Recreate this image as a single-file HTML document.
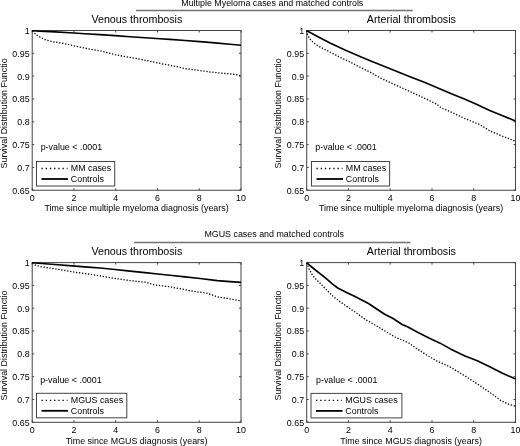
<!DOCTYPE html><html><head><meta charset="utf-8"><style>html,body{margin:0;padding:0;background:#fff;width:520px;height:446px;overflow:hidden}svg{display:block;will-change:transform}text{font-family:"Liberation Sans",sans-serif;fill:#000}</style></head><body>
<svg width="520" height="446" viewBox="0 0 520 446">
<rect width="520" height="446" fill="#fff"/>
<text x="272.3" y="6.3" font-size="8.9" text-anchor="middle">Multiple Myeloma cases and matched controls</text>
<line x1="136" y1="10.5" x2="412.7" y2="10.5" stroke="#727272" stroke-width="1.5"/>
<text x="274.2" y="236.5" font-size="8.9" text-anchor="middle">MGUS cases and matched controls</text>
<line x1="134" y1="242.5" x2="410.5" y2="242.5" stroke="#727272" stroke-width="1.5"/>
<text x="136.9" y="23.2" font-size="10.7" text-anchor="middle">Venous thrombosis</text>
<rect x="32.2" y="30.5" width="208.8" height="159.75" fill="none" stroke="#444" stroke-width="1"/>
<text x="32.2" y="201.2" font-size="8.9" text-anchor="middle">0</text>
<text x="74.0" y="201.2" font-size="8.9" text-anchor="middle">2</text>
<text x="115.7" y="201.2" font-size="8.9" text-anchor="middle">4</text>
<text x="157.5" y="201.2" font-size="8.9" text-anchor="middle">6</text>
<text x="199.2" y="201.2" font-size="8.9" text-anchor="middle">8</text>
<text x="241.0" y="201.2" font-size="8.9" text-anchor="middle">10</text>
<text x="29.6" y="33.9" font-size="8.9" text-anchor="end">1</text>
<text x="29.6" y="56.7" font-size="8.9" text-anchor="end">0.95</text>
<text x="29.6" y="79.5" font-size="8.9" text-anchor="end">0.9</text>
<text x="29.6" y="102.4" font-size="8.9" text-anchor="end">0.85</text>
<text x="29.6" y="125.2" font-size="8.9" text-anchor="end">0.8</text>
<text x="29.6" y="148.0" font-size="8.9" text-anchor="end">0.75</text>
<text x="29.6" y="170.8" font-size="8.9" text-anchor="end">0.7</text>
<text x="29.6" y="193.7" font-size="8.9" text-anchor="end">0.65</text>
<path d="M32.2,190.25v-2M32.2,30.5v2M74.0,190.25v-2M74.0,30.5v2M115.7,190.25v-2M115.7,30.5v2M157.5,190.25v-2M157.5,30.5v2M199.2,190.25v-2M199.2,30.5v2M241.0,190.25v-2M241.0,30.5v2M32.2,30.5h2M241.0,30.5h-2M32.2,53.3h2M241.0,53.3h-2M32.2,76.1h2M241.0,76.1h-2M32.2,99.0h2M241.0,99.0h-2M32.2,121.8h2M241.0,121.8h-2M32.2,144.6h2M241.0,144.6h-2M32.2,167.4h2M241.0,167.4h-2M32.2,190.2h2M241.0,190.2h-2" stroke="#444" stroke-width="1" fill="none"/>
<text x="136.6" y="211.4" font-size="8.9" text-anchor="middle">Time since multiple myeloma diagnosis (years)</text>
<text transform="translate(6.6,113.4) rotate(-90)" font-size="8.9" text-anchor="middle">Survival Distribution Functio</text>
<polyline points="32.5,30.8 34.6,33.2 37.3,35.5 40.3,37.2 43.2,38.7 46.3,40.1 49.9,41.0 53.4,41.8 57.1,42.4 60.6,43.0 64.2,43.6 67.8,44.3 73.0,45.6 78.5,46.8 88.3,48.8 100.0,50.8 107.0,52.6 115.0,54.6 122.0,56.0 130.0,57.5 142.0,59.6 155.0,62.3 165.0,64.4 175.0,66.3 185.0,68.6 195.0,69.8 210.0,72.0 225.0,73.5 236.0,74.5 241.0,75.8" fill="none" stroke="#000" stroke-width="1.3" stroke-dasharray="1.3 1.7"/>
<polyline points="32.5,30.8 40.0,31.2 55.0,31.9 70.0,32.7 85.0,33.7 100.0,34.6 115.0,35.6 130.0,36.7 145.0,37.8 160.0,38.7 170.0,39.4 185.0,40.5 200.0,41.6 215.0,42.9 230.0,44.2 241.0,45.3" fill="none" stroke="#000" stroke-width="1.65" stroke-linejoin="round"/>
<text x="40.7" y="149.75" font-size="8.9">p-value &lt; .0001</text>
<rect x="36.5" y="161.5" width="78.2" height="24.5" fill="#fff" stroke="#444" stroke-width="1"/>
<line x1="41.5" y1="168.5" x2="67.5" y2="168.5" stroke="#000" stroke-width="1.3" stroke-dasharray="1.3 2.9"/>
<line x1="41.5" y1="179.0" x2="68.0" y2="179.0" stroke="#000" stroke-width="1.8"/>
<text x="70.8" y="171.3" font-size="8.9">MM cases</text>
<text x="70.8" y="182.0" font-size="8.9">Controls</text>
<text x="411.4" y="23.2" font-size="10.7" text-anchor="middle">Arterial thrombosis</text>
<rect x="306.7" y="30.5" width="208.8" height="159.75" fill="none" stroke="#444" stroke-width="1"/>
<text x="306.7" y="201.2" font-size="8.9" text-anchor="middle">0</text>
<text x="348.5" y="201.2" font-size="8.9" text-anchor="middle">2</text>
<text x="390.2" y="201.2" font-size="8.9" text-anchor="middle">4</text>
<text x="432.0" y="201.2" font-size="8.9" text-anchor="middle">6</text>
<text x="473.7" y="201.2" font-size="8.9" text-anchor="middle">8</text>
<text x="515.5" y="201.2" font-size="8.9" text-anchor="middle">10</text>
<text x="304.1" y="33.9" font-size="8.9" text-anchor="end">1</text>
<text x="304.1" y="56.7" font-size="8.9" text-anchor="end">0.95</text>
<text x="304.1" y="79.5" font-size="8.9" text-anchor="end">0.9</text>
<text x="304.1" y="102.4" font-size="8.9" text-anchor="end">0.85</text>
<text x="304.1" y="125.2" font-size="8.9" text-anchor="end">0.8</text>
<text x="304.1" y="148.0" font-size="8.9" text-anchor="end">0.75</text>
<text x="304.1" y="170.8" font-size="8.9" text-anchor="end">0.7</text>
<text x="304.1" y="193.7" font-size="8.9" text-anchor="end">0.65</text>
<path d="M306.7,190.25v-2M306.7,30.5v2M348.5,190.25v-2M348.5,30.5v2M390.2,190.25v-2M390.2,30.5v2M432.0,190.25v-2M432.0,30.5v2M473.7,190.25v-2M473.7,30.5v2M515.5,190.25v-2M515.5,30.5v2M306.7,30.5h2M515.5,30.5h-2M306.7,53.3h2M515.5,53.3h-2M306.7,76.1h2M515.5,76.1h-2M306.7,99.0h2M515.5,99.0h-2M306.7,121.8h2M515.5,121.8h-2M306.7,144.6h2M515.5,144.6h-2M306.7,167.4h2M515.5,167.4h-2M306.7,190.2h2M515.5,190.2h-2" stroke="#444" stroke-width="1" fill="none"/>
<text x="411.1" y="211.4" font-size="8.9" text-anchor="middle">Time since multiple myeloma diagnosis (years)</text>
<text transform="translate(281.1,113.4) rotate(-90)" font-size="8.9" text-anchor="middle">Survival Distribution Functio</text>
<polyline points="306.8,30.7 307.2,33.8 308.8,37.2 310.5,39.8 313.0,42.2 315.8,44.5 318.8,46.2 321.5,47.8 330.0,52.0 340.0,57.3 350.0,62.0 360.0,67.2 371.0,72.6 380.0,77.8 390.0,82.5 397.0,85.6 410.0,91.5 423.0,97.5 436.9,104.3 441.0,107.6 452.0,112.5 465.0,118.6 479.8,124.6 489.7,130.8 502.0,136.0 515.5,141.2" fill="none" stroke="#000" stroke-width="1.3" stroke-dasharray="1.3 1.7"/>
<polyline points="306.8,30.7 318.0,36.7 330.0,43.0 345.0,50.0 360.0,56.5 372.0,61.5 384.6,66.5 397.0,71.6 410.0,76.7 425.0,82.5 439.6,88.8 452.0,93.9 465.0,99.3 477.0,104.6 489.7,110.4 502.0,115.6 515.5,120.9" fill="none" stroke="#000" stroke-width="1.65" stroke-linejoin="round"/>
<text x="315.3" y="149.75" font-size="8.9">p-value &lt; .0001</text>
<rect x="311.5" y="161.5" width="78.1" height="24.5" fill="#fff" stroke="#444" stroke-width="1"/>
<line x1="316.5" y1="168.5" x2="342.5" y2="168.5" stroke="#000" stroke-width="1.3" stroke-dasharray="1.3 2.9"/>
<line x1="316.5" y1="179.0" x2="343.0" y2="179.0" stroke="#000" stroke-width="1.8"/>
<text x="345.8" y="171.3" font-size="8.9">MM cases</text>
<text x="345.8" y="182.0" font-size="8.9">Controls</text>
<text x="136.9" y="255.3" font-size="10.7" text-anchor="middle">Venous thrombosis</text>
<rect x="32.2" y="262.6" width="208.8" height="159.7" fill="none" stroke="#444" stroke-width="1"/>
<text x="32.2" y="433.2" font-size="8.9" text-anchor="middle">0</text>
<text x="74.0" y="433.2" font-size="8.9" text-anchor="middle">2</text>
<text x="115.7" y="433.2" font-size="8.9" text-anchor="middle">4</text>
<text x="157.5" y="433.2" font-size="8.9" text-anchor="middle">6</text>
<text x="199.2" y="433.2" font-size="8.9" text-anchor="middle">8</text>
<text x="241.0" y="433.2" font-size="8.9" text-anchor="middle">10</text>
<text x="29.6" y="266.0" font-size="8.9" text-anchor="end">1</text>
<text x="29.6" y="288.8" font-size="8.9" text-anchor="end">0.95</text>
<text x="29.6" y="311.6" font-size="8.9" text-anchor="end">0.9</text>
<text x="29.6" y="334.4" font-size="8.9" text-anchor="end">0.85</text>
<text x="29.6" y="357.3" font-size="8.9" text-anchor="end">0.8</text>
<text x="29.6" y="380.1" font-size="8.9" text-anchor="end">0.75</text>
<text x="29.6" y="402.9" font-size="8.9" text-anchor="end">0.7</text>
<text x="29.6" y="425.7" font-size="8.9" text-anchor="end">0.65</text>
<path d="M32.2,422.3v-2M32.2,262.6v2M74.0,422.3v-2M74.0,262.6v2M115.7,422.3v-2M115.7,262.6v2M157.5,422.3v-2M157.5,262.6v2M199.2,422.3v-2M199.2,262.6v2M241.0,422.3v-2M241.0,262.6v2M32.2,262.6h2M241.0,262.6h-2M32.2,285.4h2M241.0,285.4h-2M32.2,308.2h2M241.0,308.2h-2M32.2,331.0h2M241.0,331.0h-2M32.2,353.9h2M241.0,353.9h-2M32.2,376.7h2M241.0,376.7h-2M32.2,399.5h2M241.0,399.5h-2M32.2,422.3h2M241.0,422.3h-2" stroke="#444" stroke-width="1" fill="none"/>
<text x="136.6" y="443.5" font-size="8.9" text-anchor="middle">Time since MGUS diagnosis (years)</text>
<text transform="translate(6.6,345.5) rotate(-90)" font-size="8.9" text-anchor="middle">Survival Distribution Functio</text>
<polyline points="32.5,262.8 34.9,264.8 39.5,266.4 51.1,268.3 62.6,270.0 74.2,272.1 88.0,274.0 100.0,275.9 115.0,278.4 130.0,280.6 145.0,282.2 155.0,285.0 170.0,286.8 185.0,289.7 195.0,291.6 206.2,293.0 217.4,296.8 228.6,298.6 237.6,300.4 241.0,300.9" fill="none" stroke="#000" stroke-width="1.3" stroke-dasharray="1.3 1.7"/>
<polyline points="32.5,262.8 45.0,263.8 58.0,264.8 72.0,265.9 88.0,267.1 100.0,268.0 115.0,269.5 130.0,271.1 145.0,272.6 160.0,274.2 170.0,275.3 185.0,276.9 200.0,278.5 217.4,280.6 230.0,281.6 241.0,282.4" fill="none" stroke="#000" stroke-width="1.65" stroke-linejoin="round"/>
<text x="40.2" y="383.25" font-size="8.9">p-value &lt; .0001</text>
<rect x="36.5" y="393.3" width="90.3" height="24.5" fill="#fff" stroke="#444" stroke-width="1"/>
<line x1="41.5" y1="400.3" x2="67.5" y2="400.3" stroke="#000" stroke-width="1.3" stroke-dasharray="1.3 2.9"/>
<line x1="41.5" y1="410.8" x2="68.0" y2="410.8" stroke="#000" stroke-width="1.8"/>
<text x="70.8" y="403.1" font-size="8.9">MGUS cases</text>
<text x="70.8" y="413.8" font-size="8.9">Controls</text>
<text x="411.4" y="255.3" font-size="10.7" text-anchor="middle">Arterial thrombosis</text>
<rect x="306.7" y="262.6" width="208.8" height="159.7" fill="none" stroke="#444" stroke-width="1"/>
<text x="306.7" y="433.2" font-size="8.9" text-anchor="middle">0</text>
<text x="348.5" y="433.2" font-size="8.9" text-anchor="middle">2</text>
<text x="390.2" y="433.2" font-size="8.9" text-anchor="middle">4</text>
<text x="432.0" y="433.2" font-size="8.9" text-anchor="middle">6</text>
<text x="473.7" y="433.2" font-size="8.9" text-anchor="middle">8</text>
<text x="515.5" y="433.2" font-size="8.9" text-anchor="middle">10</text>
<text x="304.1" y="266.0" font-size="8.9" text-anchor="end">1</text>
<text x="304.1" y="288.8" font-size="8.9" text-anchor="end">0.95</text>
<text x="304.1" y="311.6" font-size="8.9" text-anchor="end">0.9</text>
<text x="304.1" y="334.4" font-size="8.9" text-anchor="end">0.85</text>
<text x="304.1" y="357.3" font-size="8.9" text-anchor="end">0.8</text>
<text x="304.1" y="380.1" font-size="8.9" text-anchor="end">0.75</text>
<text x="304.1" y="402.9" font-size="8.9" text-anchor="end">0.7</text>
<text x="304.1" y="425.7" font-size="8.9" text-anchor="end">0.65</text>
<path d="M306.7,422.3v-2M306.7,262.6v2M348.5,422.3v-2M348.5,262.6v2M390.2,422.3v-2M390.2,262.6v2M432.0,422.3v-2M432.0,262.6v2M473.7,422.3v-2M473.7,262.6v2M515.5,422.3v-2M515.5,262.6v2M306.7,262.6h2M515.5,262.6h-2M306.7,285.4h2M515.5,285.4h-2M306.7,308.2h2M515.5,308.2h-2M306.7,331.0h2M515.5,331.0h-2M306.7,353.9h2M515.5,353.9h-2M306.7,376.7h2M515.5,376.7h-2M306.7,399.5h2M515.5,399.5h-2M306.7,422.3h2M515.5,422.3h-2" stroke="#444" stroke-width="1" fill="none"/>
<text x="411.1" y="443.5" font-size="8.9" text-anchor="middle">Time since MGUS diagnosis (years)</text>
<text transform="translate(281.1,345.5) rotate(-90)" font-size="8.9" text-anchor="middle">Survival Distribution Functio</text>
<polyline points="306.8,262.8 307.3,264.5 308.0,266.0 309.0,268.8 310.5,271.5 312.0,274.2 314.0,277.0 316.0,279.2 320.2,283.3 326.9,290.3 333.6,296.8 340.4,302.0 347.1,306.6 355.0,312.0 365.0,319.2 375.0,325.0 385.0,331.0 395.0,337.0 408.8,343.0 415.0,347.5 425.0,354.0 436.9,361.0 450.4,367.1 465.0,376.0 477.3,383.9 486.2,390.0 493.4,395.0 500.6,400.4 507.8,403.9 515.5,406.3" fill="none" stroke="#000" stroke-width="1.3" stroke-dasharray="1.3 1.7"/>
<polyline points="306.8,262.8 313.5,268.5 320.0,273.6 326.9,279.2 332.0,283.6 337.7,288.0 347.1,292.7 355.0,296.6 368.5,303.5 384.6,314.2 392.7,318.3 402.1,324.5 407.0,326.5 418.0,332.5 431.0,339.0 439.6,342.9 450.4,348.9 465.0,356.0 477.3,360.8 489.7,366.8 502.0,373.0 515.5,379.0" fill="none" stroke="#000" stroke-width="1.65" stroke-linejoin="round"/>
<text x="316.0" y="383.25" font-size="8.9">p-value &lt; .0001</text>
<rect x="311.0" y="393.4" width="90.9" height="24.5" fill="#fff" stroke="#444" stroke-width="1"/>
<line x1="316.0" y1="400.4" x2="342.0" y2="400.4" stroke="#000" stroke-width="1.3" stroke-dasharray="1.3 2.9"/>
<line x1="316.0" y1="410.9" x2="342.5" y2="410.9" stroke="#000" stroke-width="1.8"/>
<text x="345.3" y="403.2" font-size="8.9">MGUS cases</text>
<text x="345.3" y="413.9" font-size="8.9">Controls</text>
</svg></body></html>
